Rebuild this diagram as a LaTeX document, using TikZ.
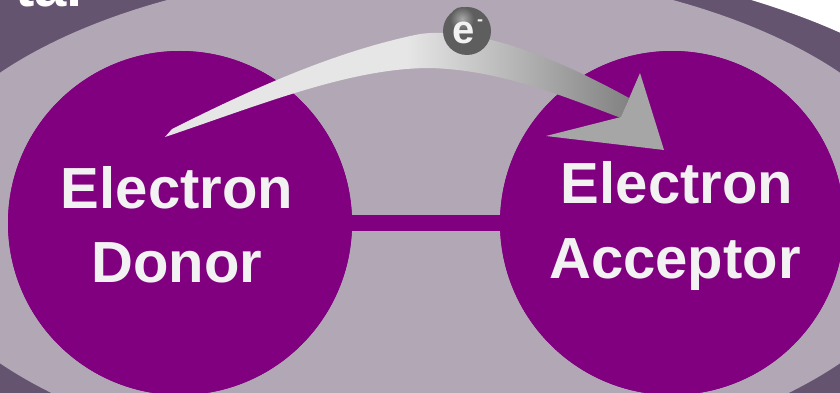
\documentclass[tikz,border=0pt]{standalone}
\usepackage{fontspec}
\setmainfont{Liberation Sans}
\definecolor{bgdark}{HTML}{655470}
\definecolor{bglight}{HTML}{B2A7B4}
\definecolor{purp}{HTML}{800080}
\definecolor{txt}{HTML}{F2F2F2}
\definecolor{arlight}{HTML}{E6E6E6}
\definecolor{ardark}{HTML}{828282}
\definecolor{headgray}{HTML}{A6A6A6}
\definecolor{balldark}{HTML}{5E5E5E}
\definecolor{ballhi}{HTML}{A8A8A8}
\pgfdeclarehorizontalshading{arrowshade}{100bp}{color(0bp)=(arlight); color(25bp)=(arlight); color(51bp)=(arlight); color(75bp)=(ardark); color(100bp)=(ardark)}
\tikzset{
  circ/.style={circle, fill=purp, minimum size=344pt, inner sep=0pt},
  lbl/.style={text=txt, font=\fontsize{58}{70}\selectfont\bfseries, anchor=base, inner sep=0pt},
  bar/.style={draw=purp, line width=16pt},
}
\begin{document}
\begin{tikzpicture}[x=1pt,y=-1pt]
\useasboundingbox (0,0) rectangle (840,393);
% background
\fill[bgdark] (0,0) rectangle (840,393);
\begin{scope}
  \clip (420,0) rectangle (840,218);
  \fill[white, even odd rule] (420,-10) rectangle (850,218) (420,218) ellipse [x radius=592pt, y radius=263pt];
\end{scope}
\fill[bglight] (420,218) ellipse [x radius=516pt, y radius=250pt];
% title fragment
\node[lbl, anchor=base east, text=white] (title) at (83,7) {tal};
% circles and bar
\node[circ] (donor) at (180,223) {};
\node[circ] (acceptor) at (672,223) {};
\draw[bar] (donor.east) -- (acceptor.west);
\node[circ] at (donor) {};
\node[circ] at (acceptor) {};
% labels
\node[lbl] (dl1) at (177,208) {Electron};
\node[lbl] (dl2) at (177,282) {Donor};
\node[lbl] (al1) at (677,203) {Electron};
\node[lbl] (al2) at (675,278) {Acceptor};
% curved arrow shaft
\shade[shading=arrowshade]
  (165,137) -- (172,129)
  .. controls (240,95) and (330,52) .. (420,34)
  .. controls (480,26) and (560,60) .. (629,98)
  -- (621,118)
  .. controls (560,95) and (500,70) .. (430,68)
  .. controls (350,68) and (260,105) .. (165,137) -- cycle;
% arrow head
\fill[headgray] (546,136) -- (621,117) -- (640,73) -- (664,150) -- cycle;
% electron
\fill[balldark] (467,31) circle (24pt);
\shade[inner color=ballhi, outer color=balldark] (462,19) circle (12pt);
\node[text=txt, font=\fontsize{40}{40}\selectfont\bfseries, inner sep=0pt] (el) at (464,32.5) {e};
\node[text=txt, font=\fontsize{18}{18}\selectfont\bfseries, inner sep=0pt, anchor=base] (elm) at (480,26) {-};
\end{tikzpicture}
\end{document}
